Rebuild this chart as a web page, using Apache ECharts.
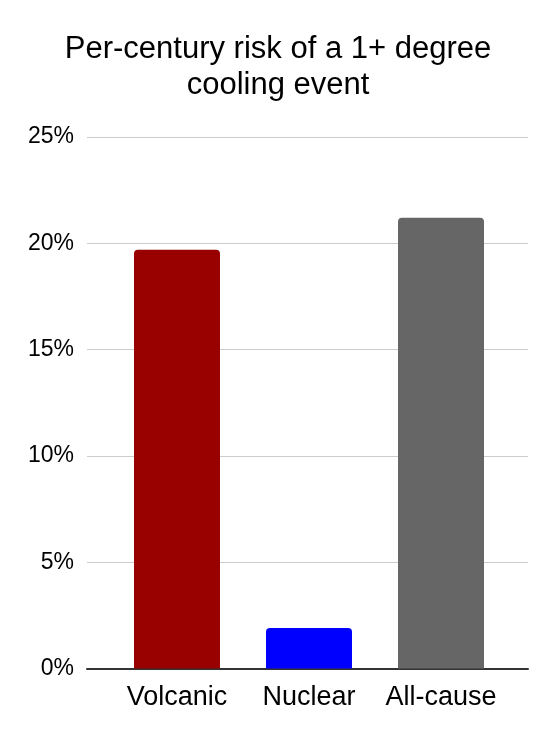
<!DOCTYPE html>
<html>
<head>
<meta charset="utf-8">
<script src="https://cdn.jsdelivr.net/npm/echarts@6/dist/echarts.min.js"></script>
<style>html,body{margin:0;padding:0;background:#fff}#c{width:556px;height:742px}</style>
</head>
<body>
<div id="c"></div>
<script>
const categories = ['Volcanic', 'Nuclear', 'All-cause'];
const values = [19.7, 1.9, 21.2];
const barColors = ['#990000', '#0000ff', '#666666'];
const yTicks = [0, 5, 10, 15, 20, 25];
const titleText = 'Per-century risk of a 1+ degree\ncooling event';

const font = 'Liberation Sans, Arial, sans-serif';
const chart = echarts.init(document.getElementById('c'), null, {renderer: 'canvas'});
chart.setOption({
  animation: false,
  backgroundColor: '#ffffff',
  title: {
    text: titleText,
    left: 'center',
    top: 26,
    textStyle: {fontFamily: font, fontSize: 31, fontWeight: 'normal', color: '#000', lineHeight: 36}
  },
  grid: [
    {left: 87, right: 28, top: 137, bottom: 73.5},
    {left: 111, right: 49, top: 137, bottom: 73.5}
  ],
  xAxis: [
    {gridIndex: 0, type: 'category', data: categories, axisLabel: {show: false}, axisTick: {show: false},
     axisLine: {show: true, lineStyle: {color: '#333', width: 2}}, splitLine: {show: false}},
    {gridIndex: 1, type: 'category', data: categories, axisTick: {show: false}, axisLine: {show: false},
     axisLabel: {fontFamily: font, fontSize: 27, color: '#000', margin: 16, interval: 0, hideOverlap: false}}
  ],
  yAxis: [
    {gridIndex: 0, type: 'value', min: yTicks[0], max: yTicks[yTicks.length - 1], interval: 5,
     axisLabel: {fontFamily: font, fontSize: 23, color: '#000', margin: 13, formatter: v => v + '%'},
     axisLine: {show: false}, axisTick: {show: false},
     splitLine: {show: true, lineStyle: {color: '#cccccc', width: 1}}},
    {gridIndex: 1, type: 'value', min: yTicks[0], max: yTicks[yTicks.length - 1], interval: 5,
     show: false, splitLine: {show: false}}
  ],
  series: [{
    type: 'bar',
    xAxisIndex: 1, yAxisIndex: 1,
    barWidth: 86,
    data: values.map((v, i) => ({value: v, itemStyle: {color: barColors[i], borderRadius: [4, 4, 0, 0]}}))
  }]
});
</script>
</body>
</html>
